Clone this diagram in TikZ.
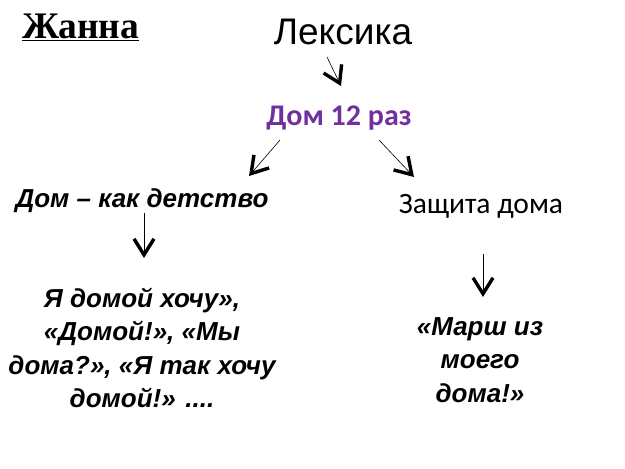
\documentclass[tikz,border=0pt]{standalone}
\usepackage{fontspec}
\setmainfont{Liberation Sans}
\newfontfamily\timesfont{Liberation Serif}
\newfontfamily\calibrifont{Carlito}
\usetikzlibrary{arrows.meta,positioning}
\definecolor{lilac}{RGB}{112,48,160}

\begin{document}
\begin{tikzpicture}[x=1pt,y=-1pt,inner sep=0pt,
  quote/.style={font=\fontsize{26}{33.5}\selectfont\bfseries\itshape, align=center},
  arr/.style={line width=0.6pt, -{Straight Barb[length=16pt,width=20pt,line width=3.4pt]}}]
\useasboundingbox (0,0) rectangle (625,469);

\node[anchor=base west, font=\timesfont\fontsize{37.5}{40}\selectfont\bfseries] (name) at (22,38) {\underline{Жанна}};
\node[anchor=base, font=\fontsize{37}{40}\selectfont] (lex) at (343,44) {Лексика};
\node[anchor=base, font=\calibrifont\fontsize{30}{34}\selectfont\bfseries, text=lilac] (dom) at (339,125) {Дом 12 раз};
\node[anchor=base, quote] (child) at (142,207) {Дом – как детство};
\node[anchor=base, font=\calibrifont\fontsize{29.5}{34}\selectfont] (def) at (481,213) {Защита дома};
\node[quote] (q_left) at (142,348) {Я домой хочу»,\\«Домой!», «Мы\\дома?», «Я так хочу\\домой!» ....};
\node[quote] (q_right) at (480,360) {«Марш из\\моего\\дома!»};

\coordinate (s_0) at (327,57);  \coordinate (t_0) at (341,86);
\coordinate (s_1) at (280,140); \coordinate (t_1) at (249,176);
\coordinate (s_2) at (379,140); \coordinate (t_2) at (414,177);
\coordinate (s_3) at (144,213); \coordinate (t_3) at (144,258);
\coordinate (s_4) at (483,254); \coordinate (t_4) at (483,297);

\path[arr]
(s_0) edge (t_0)
(s_1) edge (t_1)
(s_2) edge (t_2)
(s_3) edge (t_3)
(s_4) edge (t_4)
; %end path
\end{tikzpicture}
\end{document}
